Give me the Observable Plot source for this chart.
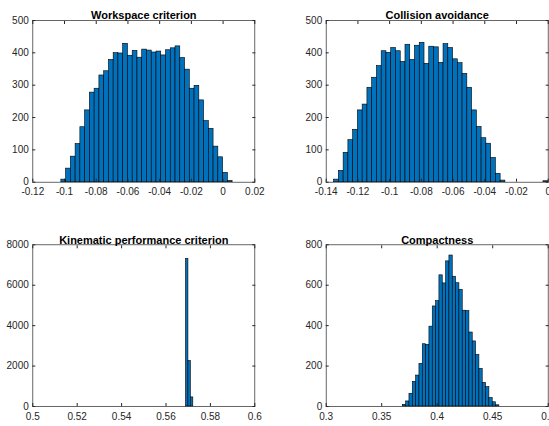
<!DOCTYPE html>
<html><head><meta charset="utf-8">
<script src="https://cdn.jsdelivr.net/npm/d3@7"></script>
<script src="https://cdn.jsdelivr.net/npm/@observablehq/plot@0.6"></script>
<style>
body{margin:0;background:#fff;}
#chart{position:relative;width:549px;height:426px;overflow:hidden;background:#fff;}
#chart svg{position:absolute;overflow:visible;}
</style></head><body><div id="chart"></div>
<script>
// ---- data ----
const titles = ["Workspace criterion", "Collision avoidance", "Kinematic performance criterion", "Compactness"];

const workspaceStart = -0.102, workspaceWidth = 0.003;
const workspaceCounts = [8,42,79,118,170,222,277,289,330,343,378,399,398,428,391,406,385,410,407,401,404,392,408,414,420,384,348,289,298,253,189,165,110,77,29,4];

const collisionStart = -0.135, collisionWidth = 0.003;
const collisionCounts = [8,35,91,130,162,222,240,292,323,359,405,400,415,405,372,425,378,422,431,366,419,417,369,427,415,380,368,335,292,222,171,136,119,75,26,5,0,0,0,0,0,0,0,0,3];

const kinematicStart = 0.569, kinematicWidth = 0.0011;
const kinematicCounts = [7300, 2250, 450];

const compactStart = 0.369, compactWidth = 0.003;
const compactCounts = [8,25,63,122,153,211,308,305,395,495,521,649,609,718,747,642,610,577,474,472,366,322,255,186,117,96,42,21,6];

const wsXTicks = [-0.12,-0.1,-0.08,-0.06,-0.04,-0.02,0,0.02];
const wsXLabels = ["-0.12","-0.1","-0.08","-0.06","-0.04","-0.02","0","0.02"];
const caXTicks = [-0.14,-0.12,-0.1,-0.08,-0.06,-0.04,-0.02,0];
const caXLabels = ["-0.14","-0.12","-0.1","-0.08","-0.06","-0.04","-0.02","0"];
const kpXTicks = [0.5,0.52,0.54,0.56,0.58,0.6];
const kpXLabels = ["0.5","0.52","0.54","0.56","0.58","0.6"];
const cpXTicks = [0.3,0.35,0.4,0.45,0.5];
const cpXLabels = ["0.3","0.35","0.4","0.45","0.5"];

const yTicks500 = [0,100,200,300,400,500];
const yTicks8000 = [0,2000,4000,6000,8000];
const yTicks800 = [0,200,400,600,800];

// ---- drawing ----
const FONT = "'Liberation Sans', Arial, Helvetica, sans-serif";
const INK = "#262626";
const container = document.getElementById("chart");

function panel(cfg) {
  const {title, start, binW, counts, xDomain, xTicks, xLabels, yDomain, yTicks, left, top, w, h, ml, mt, pw, ph} = cfg;
  const bins = counts.map((c, i) => ({x1: start + i * binW, x2: start + (i + 1) * binW, c}));
  const fmtX = d => { const i = xTicks.findIndex(t => Math.abs(t - d) < 1e-9); return i >= 0 ? xLabels[i] : ""; };
  const svg = Plot.plot({
    width: w, height: h,
    marginLeft: ml, marginTop: mt, marginRight: w - ml - pw, marginBottom: h - mt - ph,
    x: {domain: xDomain},
    y: {domain: yDomain},
    style: {fontFamily: FONT, fontSize: "10px", color: INK, background: "transparent", overflow: "visible"},
    marks: [
      Plot.rectY(bins, {x1: "x1", x2: "x2", y: "c", fill: "#0072BD", stroke: "#000", strokeWidth: 0.6}),
      Plot.frame({stroke: INK, strokeWidth: 0.7}),
      Plot.axisX({anchor: "bottom", ticks: xTicks, tickFormat: fmtX, tickSize: -3, tickPadding: 9, label: null}),
      Plot.axisX({anchor: "top", ticks: xTicks, tickFormat: () => "", tickSize: -3, label: null}),
      Plot.axisY({anchor: "left", ticks: yTicks, tickFormat: d => String(d), tickSize: -3, tickPadding: 7, label: null}),
      Plot.axisY({anchor: "right", ticks: yTicks, tickFormat: () => "", tickSize: -3, label: null}),
      Plot.text([title], {text: d => d, frameAnchor: "top", dy: -9, fontWeight: "bold", fontSize: 11, fill: "#000"})
    ]
  });
  svg.style.left = left + "px";
  svg.style.top = top + "px";
  container.appendChild(svg);
}

panel({title: titles[0], start: workspaceStart, binW: workspaceWidth, counts: workspaceCounts,
  xDomain: [-0.12, 0.02], xTicks: wsXTicks, xLabels: wsXLabels, yDomain: [0, 500], yTicks: yTicks500,
  left: 0, top: 0, w: 275, h: 200, ml: 32.3, mt: 20, pw: 222, ph: 161.7});
panel({title: titles[1], start: collisionStart, binW: collisionWidth, counts: collisionCounts,
  xDomain: [-0.14, 0], xTicks: caXTicks, xLabels: caXLabels, yDomain: [0, 500], yTicks: yTicks500,
  left: 275, top: 0, w: 274, h: 200, ml: 50.7, mt: 20, pw: 222, ph: 161.7});
panel({title: titles[2], start: kinematicStart, binW: kinematicWidth, counts: kinematicCounts,
  xDomain: [0.5, 0.6], xTicks: kpXTicks, xLabels: kpXLabels, yDomain: [0, 8000], yTicks: yTicks8000,
  left: 0, top: 220, w: 275, h: 206, ml: 32.3, mt: 24.3, pw: 222, ph: 161.7});
panel({title: titles[3], start: compactStart, binW: compactWidth, counts: compactCounts,
  xDomain: [0.3, 0.5], xTicks: cpXTicks, xLabels: cpXLabels, yDomain: [0, 800], yTicks: yTicks800,
  left: 275, top: 220, w: 274, h: 206, ml: 50.7, mt: 24.3, pw: 222, ph: 161.7});
</script>
</body></html>
